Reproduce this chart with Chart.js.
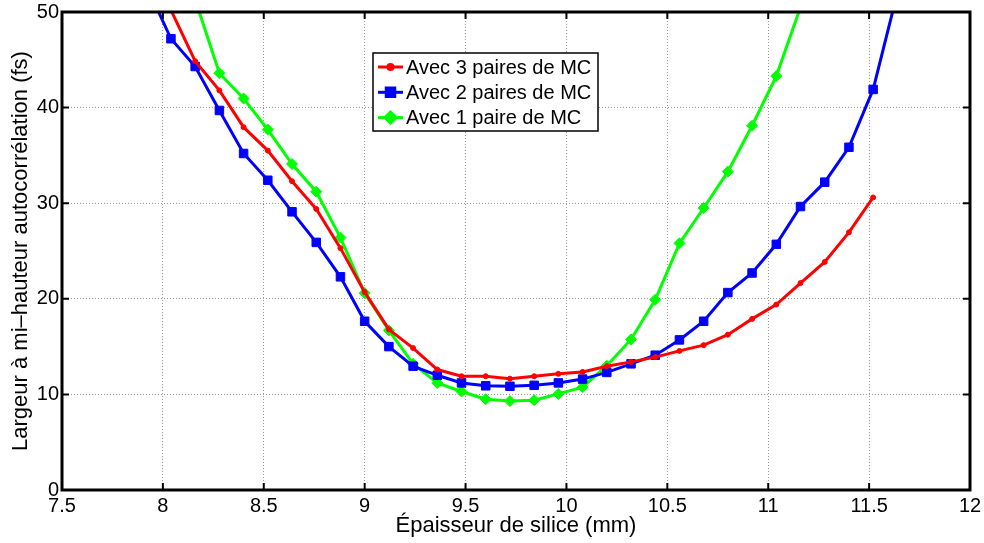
<!DOCTYPE html>
<html>
<head>
<meta charset="utf-8">
<script src="https://cdn.jsdelivr.net/npm/chart.js@4/dist/chart.umd.min.js"></script>
<style>
  html, body { margin: 0; padding: 0; background: #fff; }
  canvas { display: block; }
</style>
</head>
<body>
<canvas id="chart" width="984" height="543"></canvas>
<script>
// Épaisseur de silice (mm)
const epaisseur = [7.92, 8.04, 8.16, 8.28, 8.40, 8.52, 8.64, 8.76, 8.88, 9.00,
    9.12, 9.24, 9.36, 9.48, 9.60, 9.72, 9.84, 9.96, 10.08, 10.20,
    10.32, 10.44, 10.56, 10.68, 10.80, 10.92, 11.04, 11.16, 11.28, 11.40,
    11.52, 11.64];

// Largeur à mi-hauteur (fs) pour chaque configuration
const troisPaires = [null, 50.2, 44.85, 41.8, 37.95, 35.5, 32.3, 29.4, 25.3, 20.7,
    16.8, 14.85, 12.6, 11.9, 11.9, 11.65, 11.9, 12.15, 12.35, 12.95,
    13.4, 13.9, 14.55, 15.15, 16.25, 17.9, 19.4, 21.65, 23.85, 26.95,
    30.6, null];
const deuxPaires = [52.7, 47.2, 44.3, 39.7, 35.2, 32.4, 29.1, 25.9, 22.3, 17.65,
    15.0, 12.95, 12.0, 11.2, 10.9, 10.85, 10.95, 11.2, 11.6, 12.3,
    13.2, 14.1, 15.7, 17.65, 20.65, 22.7, 25.7, 29.65, 32.2, 35.85,
    41.9, 52.0];
const unePaire = [null, null, 51.3, 43.6, 40.95, 37.7, 34.1, 31.2, 26.4, 20.6,
    16.7, 13.2, 11.2, 10.3, 9.5, 9.3, 9.4, 10.05, 10.75, 13.0,
    15.75, 19.9, 25.8, 29.5, 33.3, 38.1, 43.3, 50.5, null, null,
    null, null];

const legendes = ['Avec 3 paires de MC', 'Avec 2 paires de MC', 'Avec 1 paire de MC'];
const xTicks = [7.5, 8, 8.5, 9, 9.5, 10, 10.5, 11, 11.5, 12];
const yTicks = [0, 10, 20, 30, 40, 50];

const police = 'Liberation Sans, Arial, Helvetica, sans-serif';

function points(valeurs) {
    return epaisseur.map(function(x, i) {
        return { x: x, y: valeurs[i] };
    });
}

function serie(label, valeurs, couleur, forme, rayon) {
    return {
        label: label,
        data: points(valeurs),
        borderColor: couleur,
        backgroundColor: couleur,
        borderWidth: 3,
        pointStyle: forme,
        pointRadius: rayon,
        pointBorderWidth: 1,
        pointBorderColor: couleur,
        pointBackgroundColor: couleur,
        tension: 0,
        spanGaps: false,
        clip: 0
    };
}

// Cadre noir + graduations vers l'intérieur (style MATLAB)
const cadre = {
    id: 'cadre',
    afterDatasetsDraw: function(chart) {
        const ctx = chart.ctx;
        const a = chart.chartArea;
        const sx = chart.scales.x;
        const sy = chart.scales.y;
        const lg = 7;
        ctx.save();
        ctx.strokeStyle = '#000';
        ctx.lineWidth = 2;
        ctx.beginPath();
        xTicks.forEach(function(v) {
            const px = sx.getPixelForValue(v);
            ctx.moveTo(px, a.bottom); ctx.lineTo(px, a.bottom - lg);
            ctx.moveTo(px, a.top); ctx.lineTo(px, a.top + lg);
        });
        yTicks.forEach(function(v) {
            const py = sy.getPixelForValue(v);
            ctx.moveTo(a.left, py); ctx.lineTo(a.left + lg, py);
            ctx.moveTo(a.right, py); ctx.lineTo(a.right - lg, py);
        });
        ctx.stroke();
        ctx.lineWidth = 3;
        ctx.strokeRect(a.left, a.top, a.right - a.left, a.bottom - a.top);
        ctx.restore();
    },
    afterDraw: function(chart) {
        // Légende encadrée
        const ctx = chart.ctx;
        const bx = 373, by = 53, bw = 225, bh = 78;
        ctx.save();
        ctx.fillStyle = '#fff';
        ctx.fillRect(bx, by, bw, bh);
        ctx.strokeStyle = '#000';
        ctx.lineWidth = 1.5;
        ctx.strokeRect(bx, by, bw, bh);
        ctx.font = '20px ' + police;
        ctx.textBaseline = 'middle';
        chart.data.datasets.forEach(function(ds, i) {
            const y = 67 + i * 25.3;
            ctx.strokeStyle = ds.borderColor;
            ctx.lineWidth = 3;
            ctx.beginPath();
            ctx.moveTo(378, y);
            ctx.lineTo(403, y);
            ctx.stroke();
            ctx.fillStyle = ds.borderColor;
            Chart.helpers.drawPoint(ctx, {
                pointStyle: ds.pointStyle,
                radius: ds.pointRadius,
                borderWidth: 1,
                rotation: 0
            }, 390.5, y);
            ctx.fillStyle = '#000';
            ctx.fillText(ds.label, 406, y + 1);
        });
        ctx.restore();
    }
};

new Chart(document.getElementById('chart'), {
    type: 'line',
    data: {
        datasets: [
            serie(legendes[0], troisPaires, '#ff0000', 'circle', 2.5),
            serie(legendes[1], deuxPaires, '#0000ff', 'rect', 6),
            serie(legendes[2], unePaire, '#00ff00', 'rectRot', 5.5)
        ]
    },
    options: {
        responsive: false,
        animation: false,
        layout: { padding: { top: 12, right: 14, left: 0, bottom: 0 } },
        plugins: {
            legend: { display: false },
            tooltip: { enabled: false }
        },
        scales: {
            x: {
                type: 'linear',
                min: 7.5,
                max: 12,
                afterFit: function(s) {
                    s.height = 53;
                    s.paddingLeft = 0;
                    s.paddingRight = 0;
                },
                afterBuildTicks: function(s) {
                    s.ticks = xTicks.map(function(v) { return { value: v }; });
                },
                ticks: {
                    color: '#000',
                    padding: 4,
                    maxRotation: 0,
                    font: { family: police, size: 20 },
                    callback: function(v) { return String(v); }
                },
                grid: {
                    drawTicks: false,
                    color: '#999',
                    lineWidth: 1
                },
                border: { display: false, dash: [1, 2] },
                title: {
                    display: true,
                    text: 'Épaisseur de silice (mm)',
                    color: '#000',
                    font: { family: police, size: 22 },
                    padding: { top: 0, bottom: 4 }
                }
            },
            y: {
                min: 0,
                max: 50,
                afterFit: function(s) {
                    s.width = 62;
                    s.paddingTop = 0;
                    s.paddingBottom = 0;
                },
                afterBuildTicks: function(s) {
                    s.ticks = yTicks.map(function(v) { return { value: v }; });
                },
                ticks: {
                    color: '#000',
                    padding: 3,
                    font: { family: police, size: 20 },
                    callback: function(v) { return String(v); }
                },
                grid: {
                    drawTicks: false,
                    color: '#999',
                    lineWidth: 1
                },
                border: { display: false, dash: [1, 2] },
                title: {
                    display: true,
                    text: 'Largeur à mi–hauteur autocorrélation (fs)',
                    color: '#000',
                    font: { family: police, size: 22 },
                    padding: { top: 8, bottom: 0 }
                }
            }
        }
    },
    plugins: [cadre]
});
</script>
</body>
</html>
